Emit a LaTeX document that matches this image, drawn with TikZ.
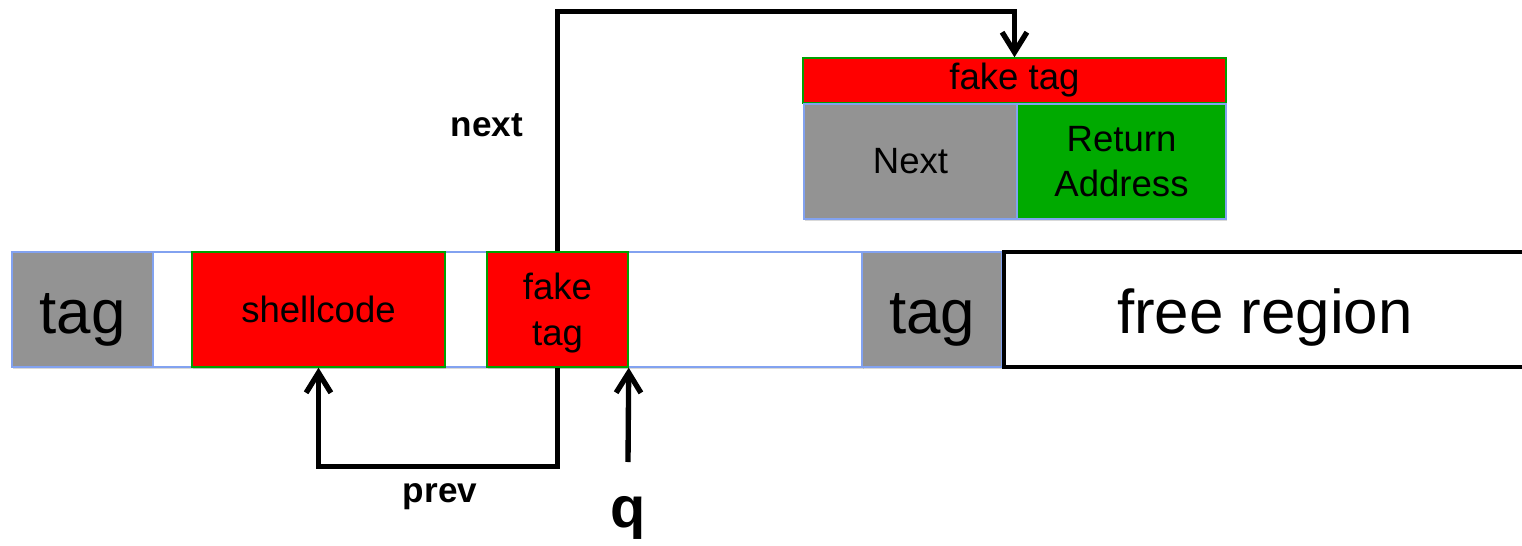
\documentclass[tikz,border=0pt]{standalone}
\usepackage{fontspec}
\setmainfont{Liberation Sans}
\usetikzlibrary{arrows.meta}
\usetikzlibrary{shadows}

\definecolor{tagGray}{HTML}{939393}
\definecolor{lineBlue}{HTML}{82A2F0}
\definecolor{addrGreen}{HTML}{00AA00}
\definecolor{edgeGreen}{HTML}{00A000}

\newcommand{\sizemid}{\fontsize{26}{32.5}\selectfont}
\newcommand{\sizebig}{\fontsize{44}{50}\selectfont}
\newcommand{\sizelbl}{\fontsize{25}{30}\selectfont\bfseries}

\begin{document}
\begin{tikzpicture}[x=0.025cm, y=-0.025cm,
    cell/.style={draw=lineBlue, line width=1pt, inner sep=0pt, minimum height=2.875cm, font=\sizemid,
        drop shadow={shadow xshift=1pt, shadow yshift=-1.5pt, opacity=0.3}},
    hot/.style={cell, draw=edgeGreen, fill=red},
    bigtext/.style={font=\sizebig, text height=34pt, text depth=0pt},
    arr/.style={line width=3.8pt, -{Straight Barb[length=5mm, width=6.2mm]}}
    ]
        \useasboundingbox (0,0) rectangle (1522,546);

        % heap chunk row
        \node[cell, bigtext, fill=tagGray, minimum width=3.525cm] (tagA) at (82.5,309.5) {tag};
        \node[cell, fill=white, minimum width=17.725cm] (chunk) at (507.5,309.5) {};
        \node[hot, minimum width=6.325cm] (shell) at (318.5,309.5) {shellcode};
        \node[hot, minimum width=3.525cm, align=center, text depth=0pt] (fake) at (557.5,309.5) {fake\\tag};
        \node[cell, bigtext, fill=tagGray, minimum width=3.5cm] (tagB) at (932,309.5) {tag};

        \coordinate (freeTL) at (1004,252);
        \coordinate (freeBL) at (1004,367);
        \draw[line width=3.2pt] (1522,252) -- (freeTL) -- (freeBL) -- (1522,367);
        \node[bigtext] (free) at (1265,309.5) {free region};

        % the fake chunk
        \node[hot, minimum width=10.575cm, minimum height=1.125cm] (fakeTop) at (1014.5,80.5) {fake tag};
        \node[cell, fill=tagGray, minimum width=5.325cm] (nextBox) at (910.5,161.5) {Next};
        \node[cell, fill=addrGreen, minimum width=5.225cm, align=center] (retBox) at (1121.5,161.5) {Return\\Address};

        % pointers
        \draw[arr] (fake.north) -- ++(0,-240) -| (fakeTop.north);
        \draw[arr] (fake.south) -- ++(0,99) -| (shell.south);
        \coordinate (qTail) at (628,462);
        \draw[arr] (qTail) -- (fake.south east);

        \node (nextLbl) at (487,125) {\sizelbl next};
        \node (prevLbl) at (440,497) {\sizelbl prev};
        \node (qLbl) at (628,518) {\fontsize{41}{46}\selectfont\bfseries q};

    \end{tikzpicture}
\end{document}
